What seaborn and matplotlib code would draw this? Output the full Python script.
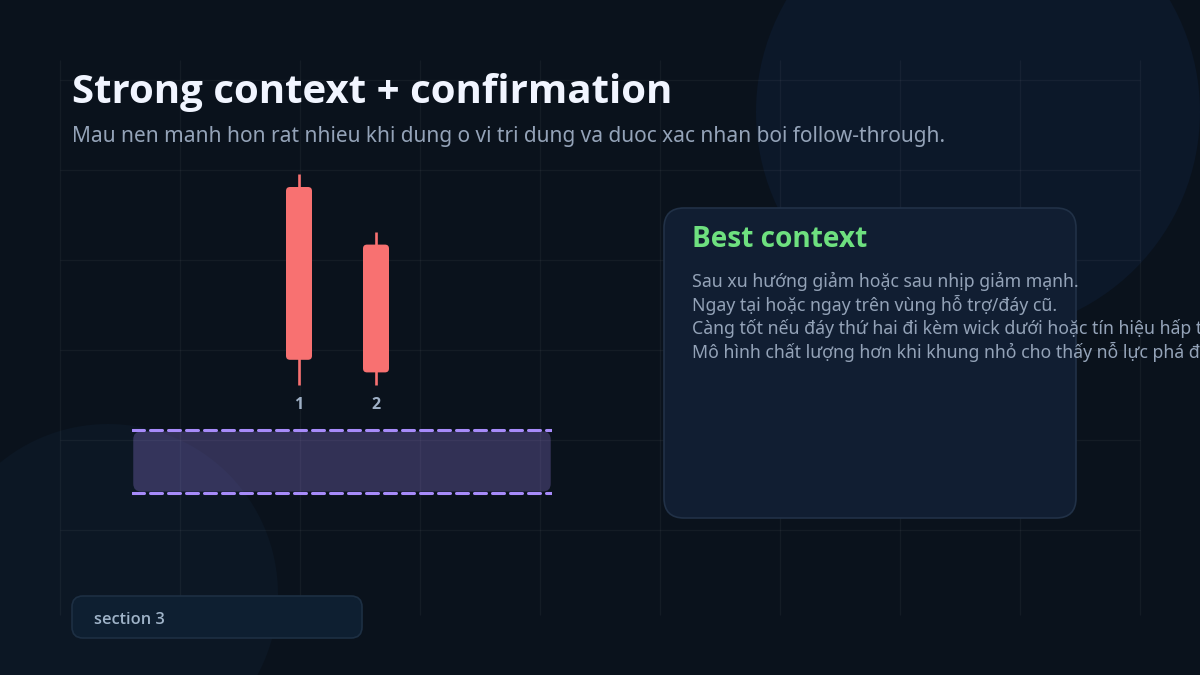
import numpy as np
import pandas as pd
import seaborn as sns
import matplotlib
matplotlib.use("Agg")
import matplotlib.pyplot as plt
from matplotlib.patches import FancyBboxPatch, Circle
import matplotlib.transforms as mtransforms

# ---------------- data ----------------
candle_labels = ["1", "2"]
opens = [92.5, 76.5]
highs = [96.0, 80.0]
lows = [37.5, 37.5]
closes = [44.5, 41.0]
zone_low = 7.5
zone_high = 25.0

title = "Strong context + confirmation"
subtitle = "Mau nen manh hon rat nhieu khi dung o vi tri dung va duoc xac nhan boi follow-through."
card_title = "Best context"
card_lines = [
    "Sau xu hướng giảm hoặc sau nhịp giảm mạnh.",
    "Ngay tại hoặc ngay trên vùng hỗ trợ/đáy cũ.",
    "Càng tốt nếu đáy thứ hai đi kèm wick dưới hoặc tín hiệu hấp thụ lực bán.",
    "Mô hình chất lượng hơn khi khung nhỏ cho thấy nỗ lực phá đáy thất bại.",
]
footer = "section 3"

# ---------------- style ----------------
sns.set_theme(style="dark")
plt.rcParams['font.family'] = ['Noto Sans', 'DejaVu Sans']
BOLD_FAM = ['Open Sans', 'Lato', 'DejaVu Sans']

BG = "#0a121c"
RED = "#f87171"
PURPLE = "#a78bfa"
W, H = 1200, 675

fig = plt.figure(figsize=(12, 6.75), dpi=100, facecolor=BG)

# background layer in pixel coordinates
bg = fig.add_axes([0, 0, 1, 1])
bg.set_xlim(0, W)
bg.set_ylim(H, 0)
bg.axis("off")

bg.add_patch(Circle((978, 112), 222, facecolor="#0c1829", edgecolor="none", zorder=0))
bg.add_patch(Circle((108, 594), 170, facecolor="#0c1724", edgecolor="none", zorder=0))

grid_kw = dict(color="white", alpha=0.045, lw=1.0, zorder=1)
bg.vlines(np.arange(60, 1141, 120), 60, 615, **grid_kw)
bg.hlines(np.arange(80, 531, 90), 60, 1140, **grid_kw)

# card
bg.add_patch(FancyBboxPatch((664, 208), 412, 310,
                            boxstyle="round,pad=0,rounding_size=20",
                            facecolor="#111e32", edgecolor="#213147", lw=1.2, zorder=2))
# footer pill
bg.add_patch(FancyBboxPatch((72, 596), 290, 42,
                            boxstyle="round,pad=0,rounding_size=11",
                            facecolor="#0e1f31", edgecolor="#1d2f43", lw=1.2, zorder=2))

# texts
bg.text(72, 103, title, fontsize=29.0, fontweight="bold", family=BOLD_FAM,
        color="#f1f5ff", va="baseline", ha="left", zorder=5)
bg.text(72, 142, subtitle, fontsize=15.0, color="#94a3b8",
        va="baseline", ha="left", zorder=5)
bg.text(692, 247, card_title, fontsize=20.2, fontweight="bold", family=BOLD_FAM,
        color="#6ee07f", va="baseline", ha="left", zorder=5)
for i, line in enumerate(card_lines):
    bg.text(692, 287 + i * 23.6, line, fontsize=12.75, color="#94a3b8",
            va="baseline", ha="left", zorder=5)
bg.text(94, 624, footer, fontsize=11.8, fontweight="semibold", family=BOLD_FAM,
        color="#9fb3c8", va="baseline", ha="left", zorder=5)

# ---------------- candle chart ----------------
ax_l, ax_r, ax_t, ax_b = 132, 552, 160, 520
ax = fig.add_axes([ax_l / W, 1 - ax_b / H, (ax_r - ax_l) / W, (ax_b - ax_t) / H])
ax.patch.set_alpha(0)
px_per_x = 77.0
x0 = -(299 - ax_l) / px_per_x
ax.set_xlim(x0, x0 + (ax_r - ax_l) / px_per_x)
ax.set_ylim(0, 100)
ax.axis("off")
sns.despine(ax=ax, left=True, bottom=True)

px_per_y = (ax_b - ax_t) / 100.0
xs = np.arange(len(candle_labels))

# zone
blend = mtransforms.blended_transform_factory(ax.transAxes, ax.transData)
zone_w_px = ax_r - ax_l
rx = 8 / zone_w_px
aspect = (1 / px_per_y) / (1 / zone_w_px)
ax.add_patch(FancyBboxPatch((0.003, zone_low + 0.4), 0.994, zone_high - zone_low - 0.8,
                            boxstyle=f"round,pad=0,rounding_size={rx}",
                            mutation_aspect=aspect, transform=blend,
                            facecolor=PURPLE, alpha=0.26, edgecolor="none", zorder=1))
lw = 2.2
for lvl in (zone_low, zone_high):
    ax.axhline(lvl, xmin=0, xmax=1, color=PURPLE, lw=lw,
               ls=(0, (12 * 0.72 / lw, 6 * 0.72 / lw)), dash_capstyle="round", zorder=2)

# wicks
ax.vlines(xs, lows, highs, color=RED, lw=1.9, zorder=3)
# bodies
body_w = 26 / px_per_x
r_x = 4 / px_per_x
asp_c = (1 / px_per_y) / (1 / px_per_x)
for x, o, c in zip(xs, opens, closes):
    lo, hi = min(o, c), max(o, c)
    ax.add_patch(FancyBboxPatch((x - body_w / 2, lo), body_w, hi - lo,
                                boxstyle=f"round,pad=0,rounding_size={r_x}",
                                mutation_aspect=asp_c,
                                facecolor=RED, edgecolor="none", zorder=4))
for x, lab, lo in zip(xs, candle_labels, lows):
    ax.annotate(lab, (x, lo), xytext=(0, -20), textcoords="offset pixels",
                ha="center", va="center", fontsize=11.5, fontweight="bold",
                family=BOLD_FAM, color="#9fb0c6", zorder=5)

fig.savefig("out.png", dpi=100, facecolor=BG)
